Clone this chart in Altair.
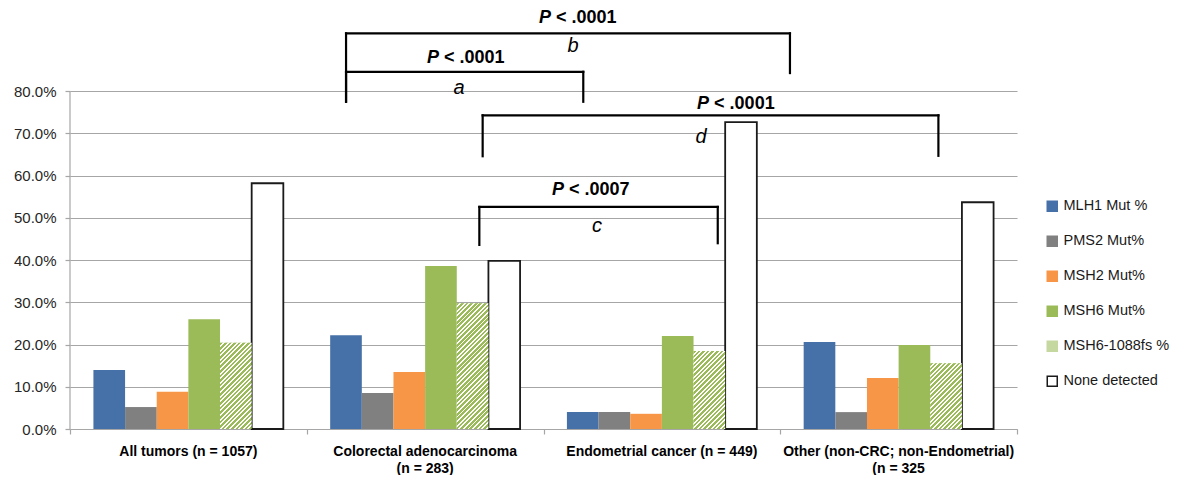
import altair as alt
import pandas as pd

# ---------------- data ----------------
categories = ["All tumors (n = 1057)",
              "Colorectal adenocarcinoma|(n = 283)",
              "Endometrial cancer (n = 449)",
              "Other (non-CRC; non-Endometrial)|(n = 325"]
series = ["MLH1 Mut %", "PMS2 Mut%", "MSH2 Mut%", "MSH6 Mut%", "MSH6-1088fs %", "None detected"]
mlh1 = [0.140, 0.222, 0.040, 0.206]
pms2 = [0.052, 0.085, 0.040, 0.040]
msh2 = [0.088, 0.135, 0.036, 0.121]
msh6 = [0.260, 0.386, 0.220, 0.199]
msh6_fs = [0.204, 0.298, 0.185, 0.156]
none_detected = [0.582, 0.398, 0.727, 0.537]
y_ticks = [0.0, 0.1, 0.2, 0.3, 0.4, 0.5, 0.6, 0.7, 0.8]

# significance brackets (x in category-group units, y in fraction)
br_left = [1.166, 1.166, 1.729, 1.743]
br_right = [2.168, 3.041, 2.736, 3.668]
br_top = [0.846, 0.937, 0.526, 0.743]
br_left_bottom = [0.775, 0.775, 0.436, 0.646]
br_right_bottom = [0.775, 0.843, 0.440, 0.647]
p_text = ["< .0001", "< .0001", "< .0007", "< .0001"]
p_x = [1.569, 2.042, 2.097, 2.710]
p_y = [0.878, 0.973, 0.566, 0.769]
letters = ["a", "b", "c", "d"]
letter_x = [1.643, 2.125, 2.226, 2.665]
letter_y = [0.808, 0.906, 0.480, 0.691]

# ---------------- styling ----------------
W, H = 947, 418
YMAX = 0.99
fill_colors = ["#4671A8", "#808080", "#F79646", "#9BBB59", "#C5D89F", "#FFFFFF"]
stroke_colors = ["#4671A8", "#808080", "#F79646", "#9BBB59", "#C5D89F", "#1A1A1A"]
GRID = "#A6A6A6"
OUTER = 0.74
bar_w = (W / 4) / (6 + 2 * OUTER)
k = H / YMAX
PERIOD = 4.6
GREEN_FRAC = 0.58

vals = [mlh1, pms2, msh2, msh6, msh6_fs, none_detected]
rows = []
for s, v in zip(series, vals):
    for c, x in zip(categories, v):
        rows.append({"cat": c, "series": s, "value": x})
df = pd.DataFrame(rows)

band_scale = alt.Scale(domain=categories, paddingInner=0, paddingOuter=0)
band_axis = alt.Axis(title=None, domain=False, ticks=False, tickSize=0, labelAngle=0,
                     labelExpr="split(datum.label, '|')", labelFont="Liberation Sans",
                     labelFontWeight="bold", labelFontSize=14, labelColor="#000000",
                     labelLineHeight=17, labelPadding=15, grid=False, labelLimit=400)
x_enc = alt.X("cat:N", sort=categories, scale=band_scale, axis=band_axis)
xo_enc = alt.XOffset("series:N", sort=series,
                     scale=alt.Scale(domain=series, paddingInner=0, paddingOuter=OUTER))
y_scale = alt.Scale(domain=[0, YMAX], nice=False, zero=True)
y_axis = alt.Axis(title=None, values=y_ticks, format=".1%", domain=False,
                  grid=True, gridColor=GRID, gridWidth=1.2,
                  ticks=True, tickColor=GRID, tickSize=5, tickWidth=1.2,
                  labelFont="Liberation Sans", labelFontSize=15,
                  labelColor="#262626", labelPadding=9)
y_enc = alt.Y("value:Q", scale=y_scale, axis=y_axis)

legend = alt.Legend(title=None, orient="none", legendX=975, legendY=188,
                    symbolType="square", symbolSize=100, symbolStrokeWidth=1.5,
                    labelFont="Liberation Sans", labelFontSize=14.5, labelColor="#1A1A1A",
                    labelOffset=4, rowPadding=18, labelLimit=200)

base = alt.Chart(df).mark_bar().encode(
    x=x_enc, xOffset=xo_enc, y=y_enc,
    fill=alt.Fill("series:N", scale=alt.Scale(domain=series, range=fill_colors), legend=legend),
    stroke=alt.Stroke("series:N", scale=alt.Scale(domain=series, range=stroke_colors), legend=legend),
    strokeWidth=alt.condition(alt.datum.series == "None detected", alt.value(1.8), alt.value(0)),
)


def hatch_fill(value):
    w = bar_w
    h = max(value * k, 1.0)
    c = (w + h) / (w * w + h * h)
    n = (w + h) / PERIOD
    stops = []
    i = 0
    while i < n:
        o0 = min(i / n, 1.0)
        o1 = min((i + GREEN_FRAC) / n, 1.0)
        o2 = min((i + 1) / n, 1.0)
        stops += [{"offset": o0, "color": "#9BBB59"}, {"offset": o1, "color": "#9BBB59"},
                  {"offset": o1, "color": "#FFFFFF"}, {"offset": o2, "color": "#FFFFFF"}]
        i += 1
    return {"gradient": "linear", "x1": 0, "y1": 0, "x2": c * w, "y2": c * h, "stops": stops}


hatch_layers = []
for c, v in zip(categories, msh6_fs):
    d = pd.DataFrame([{"cat": c, "series": series[4], "value": v}])
    hatch_layers.append(
        alt.Chart(d).mark_bar(fill=hatch_fill(v), strokeWidth=0).encode(
            x=x_enc, xOffset=xo_enc, y=y_enc,
        )
    )

bars = alt.layer(base, *hatch_layers)

# ---------------- annotations ----------------
qx = alt.Scale(domain=[0, 4], nice=False, zero=False)
q_axis = alt.Axis(title=None, orient="bottom", values=[0, 1, 2, 3, 4],
                  labels=False, grid=False, domain=True, domainColor=GRID,
                  domainWidth=1.2, ticks=True, tickColor=GRID, tickSize=5, tickWidth=1.2)
qx_enc = alt.X("x:Q", scale=qx, axis=q_axis)
qy_enc = alt.Y("y:Q", scale=y_scale, axis=y_axis)

seg = []
for l, r, t, lb, rb in zip(br_left, br_right, br_top, br_left_bottom, br_right_bottom):
    seg.append({"x": l, "x2": l, "y": lb, "y2": t})
    seg.append({"x": l, "x2": r, "y": t, "y2": t})
    seg.append({"x": r, "x2": r, "y": rb, "y2": t})
seg_df = pd.DataFrame(seg)

brackets = alt.Chart(seg_df).mark_rule(color="#000000", strokeWidth=2.2, strokeCap="square").encode(
    x=qx_enc, x2="x2:Q", y=qy_enc, y2="y2:Q",
)

yaxis_line = alt.Chart(pd.DataFrame({"x": [0.0], "y": [0.0], "y2": [y_ticks[-1]]})).mark_rule(
    color=GRID, strokeWidth=1.2).encode(x=qx_enc, y=qy_enc, y2="y2:Q")

lab_df = pd.DataFrame({"x": p_x, "y": p_y, "p": ["P"] * 4, "t": p_text})
p_mark = alt.Chart(lab_df).mark_text(font="Liberation Sans", fontSize=18, fontWeight="bold",
                                     fontStyle="italic", align="right", baseline="middle",
                                     dx=-2.5, color="#000000").encode(
    x=qx_enc, y=qy_enc, text="p:N")
t_mark = alt.Chart(lab_df).mark_text(font="Liberation Sans", fontSize=18, fontWeight="bold",
                                     align="left", baseline="middle", dx=2.5,
                                     color="#000000").encode(
    x=qx_enc, y=qy_enc, text="t:N")
let_df = pd.DataFrame({"x": letter_x, "y": letter_y, "l": letters})
l_mark = alt.Chart(let_df).mark_text(font="Liberation Sans", fontSize=20, fontStyle="italic",
                                     align="center", baseline="middle", color="#000000").encode(
    x=qx_enc, y=qy_enc, text="l:N")

annot = alt.layer(yaxis_line, brackets, p_mark, t_mark, l_mark)

chart = alt.layer(bars, annot).resolve_scale(x="independent").properties(
    width=W, height=H,
    background="#FFFFFF",
    padding={"left": 62, "top": 3, "right": 153, "bottom": 46},
    autosize=alt.AutoSizeParams(type="none"),
).configure_view(strokeWidth=0)

chart.save("out.html", embed_options={"renderer": "svg", "actions": False})
